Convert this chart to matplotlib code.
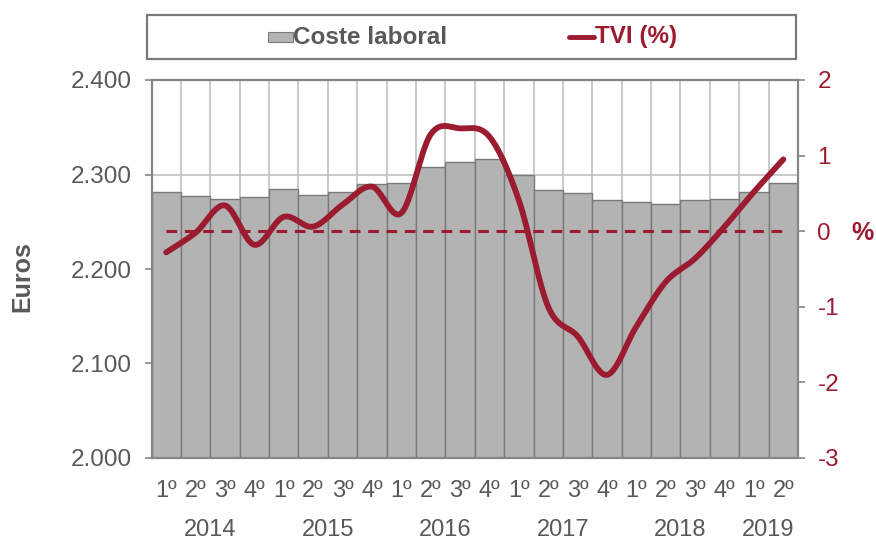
import numpy as np
import matplotlib.pyplot as plt
from matplotlib.patches import Rectangle
from matplotlib.lines import Line2D

plt.rcParams['font.family'] = ['Liberation Sans', 'DejaVu Sans']
plt.rcParams['axes.unicode_minus'] = False

quarters = ['1º', '2º', '3º', '4º'] * 5 + ['1º', '2º']
years = ['2014', '2015', '2016', '2017', '2018', '2019']
year_pos = [1.5, 5.5, 9.5, 13.5, 17.5, 20.5]
coste = [2281, 2277, 2274, 2276.5, 2285, 2278, 2282, 2289.5, 2291, 2307.5, 2313,
         2316.5, 2300, 2284, 2280, 2273, 2271, 2269, 2273, 2274, 2282, 2291]
tvi = [-0.28, -0.02, 0.34, -0.18, 0.19, 0.06, 0.35, 0.59, 0.24, 1.28, 1.36,
       1.25, 0.41, -1.0, -1.39, -1.90, -1.26, -0.67, -0.36, 0.06, 0.52, 0.95]

grey_txt = '#595959'
red = '#9b1b30'
W, H = 876, 540


def smooth(x, y, n=30):
    # bezier smoothing similar to spreadsheet "smoothed line"
    x = np.asarray(x, float)
    y = np.asarray(y, float)
    px = np.concatenate([[x[0]], x, [x[-1]]])
    py = np.concatenate([[y[0]], y, [y[-1]]])
    xs, ys = [], []
    t = np.linspace(0, 1, n)
    for i in range(1, len(px) - 2):
        p0 = np.array([px[i], py[i]])
        p3 = np.array([px[i + 1], py[i + 1]])
        p1 = p0 + (np.array([px[i + 1], py[i + 1]]) - np.array([px[i - 1], py[i - 1]])) / 6
        p2 = p3 - (np.array([px[i + 2], py[i + 2]]) - np.array([px[i], py[i]])) / 6
        b = ((1 - t) ** 3)[:, None] * p0 + (3 * (1 - t) ** 2 * t)[:, None] * p1 \
            + (3 * (1 - t) * t ** 2)[:, None] * p2 + (t ** 3)[:, None] * p3
        xs.extend(b[:, 0])
        ys.extend(b[:, 1])
    return np.array(xs), np.array(ys)


def fx(px):
    return px / W


def fy(py):
    return 1 - py / H


fig = plt.figure(figsize=(8.76, 5.4), dpi=100)
ax = fig.add_axes([fx(151.5), fy(458), fx(798) - fx(151.5), fy(80) - fy(458)])
x = np.arange(len(coste))

ax.bar(x, coste, width=1.0, color='#b3b3b3', edgecolor='#7a7a7a', linewidth=1.0, zorder=2)
ax.set_ylim(2000, 2400)
ax.set_xlim(-0.5, len(coste) - 0.5)
ax.set_yticks([2000, 2100, 2200, 2300, 2400])
ax.set_yticklabels(['2.000', '2.100', '2.200', '2.300', '2.400'])
ax.yaxis.grid(True, color='#c0c0c0', linewidth=1.2, zorder=0)
for b in np.arange(-0.5, len(coste), 1.0):
    ax.axvline(b, color='#c0c0c0', linewidth=1.2, zorder=0)
ax.set_axisbelow(True)
ax.set_xticks(x)
ax.set_xticklabels(quarters)
ax.tick_params(axis='x', length=0, pad=16, labelsize=17, labelcolor=grey_txt)
ax.tick_params(axis='y', length=5, color='#868686', width=1.2, labelsize=17.5,
               labelcolor=grey_txt, pad=9)
for s in ax.spines.values():
    s.set_color('#868686')
    s.set_linewidth(1.6)
fig.text(fx(22), fy(277), 'Euros', rotation=90, ha='center', va='center',
         fontsize=18, fontweight='bold', color=grey_txt)

for yr, p in zip(years, year_pos):
    ax.text(p, -0.19, yr, transform=ax.get_xaxis_transform(), ha='center', va='center',
            fontsize=17, color=grey_txt)

ax2 = ax.twinx()
ax2.set_ylim(-3, 2)
ax2.set_yticks([-3, -2, -1, 0, 1, 2])
ax2.tick_params(axis='y', length=5, color='#868686', width=1.2, labelsize=17.5,
                labelcolor=red, pad=9)
for s in ax2.spines.values():
    s.set_visible(False)
sx, sy = smooth(x, tvi)
ax2.plot(sx, sy, color=red, linewidth=4.2, solid_capstyle='round', zorder=5)
ax2.plot([x[0], x[-1]], [0, 0], color=red, linewidth=2.2, dashes=(3.5, 2.5), zorder=4)
fig.text(fx(862), fy(233), '%', ha='center', va='center',
         fontsize=18, fontweight='bold', color=red)

# legend box across the top
fig.add_artist(Rectangle((fx(147), fy(59)), fx(796) - fx(147), fy(15) - fy(59),
                         transform=fig.transFigure, facecolor='white',
                         edgecolor='#7a7a7a', linewidth=1.6))
fig.add_artist(Rectangle((fx(268), fy(42)), fx(293) - fx(268), fy(32) - fy(42),
                         transform=fig.transFigure, facecolor='#b3b3b3',
                         edgecolor='#7a7a7a', linewidth=0.8))
fig.text(fx(293), fy(37), 'Coste laboral', ha='left', va='center', fontsize=17.5,
         fontweight='bold', color=grey_txt)
fig.add_artist(Line2D([fx(569), fx(594)], [fy(37), fy(37)], transform=fig.transFigure,
                      color=red, linewidth=3.5, solid_capstyle='round'))
fig.text(fx(595), fy(37), 'TVI (%)', ha='left', va='center', fontsize=17.5,
         fontweight='bold', color=red)

fig.savefig('out.png', dpi=100)
